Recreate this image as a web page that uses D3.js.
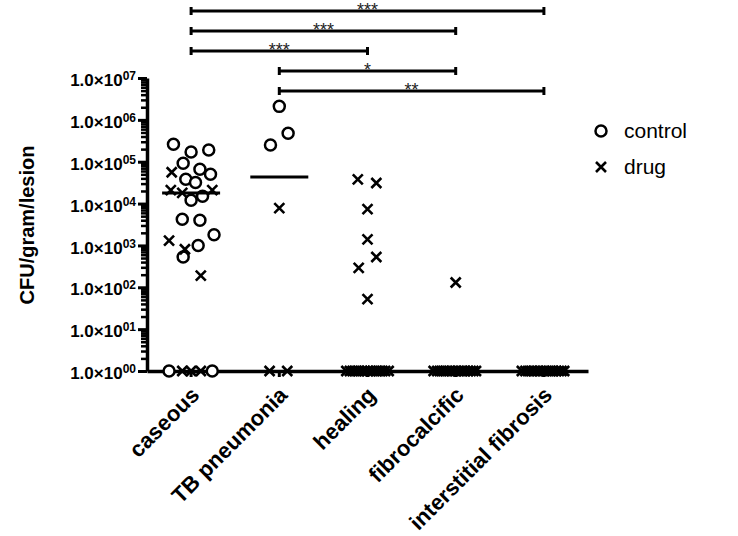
<!DOCTYPE html>
<html>
<head>
<meta charset="utf-8">
<script src="https://cdn.jsdelivr.net/npm/d3@7"></script>
<style>
  body { margin: 0; background: #fff; }
  text { font-family: Arial, 'Liberation Sans', sans-serif; }
</style>
</head>
<body>
<script>
const categories = ['caseous', 'TB pneumonia', 'healing', 'fibrocalcific', 'interstitial fibrosis']

// CFU/gram/lesion, 0 = no growth (drawn on the 1.0x10^00 line)
const controlValues = [
  [2.6e5, 1.7e5, 1.9e5, 9.2e4, 6.6e4, 5.0e4, 3.8e4, 3.2e4, 1.2e4, 1.5e4, 4.2e3, 4.0e3, 1.8e3, 1.0e3, 5.3e2, 0, 0],
  [2.1e6, 4.8e5, 2.5e5],
  [],
  [],
  [],
]
// horizontal scatter of each point, as a fraction of the category step
const controlJitter = [
  [-0.2, 0, 0.2, -0.09, 0.1, 0.22, -0.06, 0.05, 0, 0.13, -0.1, 0.1, 0.26, 0.08, -0.09, -0.25, 0.24],
  [0, 0.1, -0.1],
  [],
  [],
  [],
]
const drugValues = [
  [5.6e4, 2.1e4, 1.8e4, 2.1e4, 1.3e3, 8.1e2, 1.9e2, 0, 0, 0],
  [7.8e3, 0, 0],
  [3.8e4, 3.1e4, 7.4e3, 1.4e3, 5.3e2, 2.9e2, 52, 0, 0, 0, 0, 0, 0, 0, 0, 0, 0, 0, 0, 0, 0, 0],
  [1.3e2, 0, 0, 0, 0, 0, 0, 0, 0, 0, 0, 0, 0, 0, 0, 0],
  [0, 0, 0, 0, 0, 0, 0, 0, 0, 0, 0, 0, 0, 0, 0],
]
const drugJitter = [
  [-0.22, -0.23, -0.1, 0.24, -0.25, -0.07, 0.11, -0.1, 0, 0.11],
  [0, -0.11, 0.09],
  [-0.11, 0.1, 0, 0, 0.1, -0.1, 0, -0.24, -0.2, -0.17, -0.13, -0.1, -0.06, -0.03, 0, 0.03, 0.06, 0.1, 0.13, 0.17, 0.2, 0.24],
  [0, -0.25, -0.21, -0.18, -0.14, -0.11, -0.07, -0.04, 0, 0.03, 0.07, 0.1, 0.14, 0.17, 0.2, 0.23],
  [-0.25, -0.21, -0.18, -0.14, -0.11, -0.07, -0.04, 0, 0.03, 0.07, 0.1, 0.14, 0.17, 0.2, 0.23],
]
const medians = [1.8e4, 4.3e4, 0, 0, 0]

// significance brackets: [from category, to category, label]
const comparisons = [
  [0, 4, '***'],
  [0, 3, '***'],
  [0, 2, '***'],
  [1, 3, '*'],
  [1, 4, '**'],
]
const yTickExponents = ['00', '01', '02', '03', '04', '05', '06', '07']
const legendLabels = ['control', 'drug']

const width = 738
const height = 536
const axisX = 147
const axisY = 371

const x = d3
  .scaleBand()
  .domain(categories)
  .range([axisX, 588])

const y = d3
  .scaleLog()
  .domain([1, 1e7])
  .range([axisY, 78])

const cx = i => x(categories[i]) + x.bandwidth() / 2
const crossPath = 'M-5,-5L5,5M-5,5L5,-5'

const svg = d3
  .select('body')
  .append('svg')
  .attr('width', width)
  .attr('height', height)

// minor ticks, 2..9 in every decade
const minorTicks = []
yTickExponents.slice(0, -1).forEach((e, k) => {
  for (let m = 2; m < 10; m++) minorTicks.push(m * 10 ** k)
})

svg
  .append('g')
  .attr('transform', `translate(${axisX},0)`)
  .call(
    d3
      .axisLeft(y)
      .tickValues(minorTicks)
      .tickSize(6)
      .tickSizeOuter(0)
      .tickFormat(''),
  )
  .call(g => g.select('.domain').remove())
  .call(g => g.selectAll('.tick line').attr('stroke-width', 2.5))

const yAxis = svg
  .append('g')
  .attr('transform', `translate(${axisX},0)`)
  .call(
    d3
      .axisLeft(y)
      .tickValues(yTickExponents.map(e => 10 ** +e))
      .tickSize(9)
      .tickSizeOuter(0)
      .tickFormat(''),
  )
yAxis.select('.domain').attr('stroke-width', 3.5)
yAxis.selectAll('.tick line').attr('stroke-width', 3)
yAxis
  .selectAll('.tick text')
  .attr('x', -11)
  .attr('dy', '0.45em')
  .attr('fill', '#000')
  .style('font-size', '17px')
  .style('font-weight', 'bold')
  .style('text-anchor', 'end')
  .each(function(d, i) {
    const t = d3.select(this)
    t.append('tspan').text('1.0×10')
    t.append('tspan')
      .attr('dy', -6)
      .style('font-size', '12px')
      .text(yTickExponents[i])
  })

const xAxis = svg
  .append('g')
  .attr('transform', `translate(0,${axisY})`)
  .call(
    d3
      .axisBottom(x)
      .tickSize(6)
      .tickSizeOuter(0),
  )
xAxis.select('.domain').attr('stroke-width', 3.5)
xAxis.selectAll('.tick line').attr('stroke-width', 3)
xAxis
  .selectAll('.tick text')
  .attr('x', 0)
  .attr('y', 0)
  .attr('dy', '0.35em')
  .attr('fill', '#000')
  .attr('transform', 'translate(4,20) rotate(-45)')
  .style('text-anchor', 'end')
  .style('font-size', '22px')
  .style('font-weight', 'bold')

svg
  .append('text')
  .attr('transform', 'translate(27,225) rotate(-90)')
  .attr('dy', '0.35em')
  .style('text-anchor', 'middle')
  .style('font-size', '20px')
  .style('font-weight', 'bold')
  .text('CFU/gram/lesion')

// points
categories.forEach((c, i) => {
  svg
    .append('g')
    .selectAll('circle')
    .data(controlValues[i])
    .join('circle')
    .attr('cx', (d, j) => cx(i) + controlJitter[i][j] * x.step())
    .attr('cy', d => y(Math.max(d, 1)))
    .attr('r', 5.5)
    .attr('fill', '#fff')
    .attr('stroke', '#000')
    .attr('stroke-width', 2.5)

  svg
    .append('g')
    .selectAll('path')
    .data(drugValues[i])
    .join('path')
    .attr('transform', (d, j) => `translate(${cx(i) + drugJitter[i][j] * x.step()},${y(Math.max(d, 1))})`)
    .attr('d', crossPath)
    .attr('stroke', '#000')
    .attr('stroke-width', 2.6)

  if (medians[i] > 1) {
    svg
      .append('line')
      .attr('x1', cx(i) - 29)
      .attr('x2', cx(i) + 29)
      .attr('y1', y(medians[i]))
      .attr('y2', y(medians[i]))
      .attr('stroke', '#000')
      .attr('stroke-width', 3)
  }
})

// significance brackets
const brackets = svg
  .append('g')
  .selectAll('g')
  .data(comparisons)
  .join('g')
  .attr('transform', (d, k) => `translate(0,${11 + k * 20})`)

brackets
  .append('line')
  .attr('x1', d => cx(d[0]))
  .attr('x2', d => cx(d[1]))
  .attr('stroke', '#000')
  .attr('stroke-width', 3)

brackets
  .selectAll('.cap')
  .data(d => [cx(d[0]), cx(d[1])])
  .join('line')
  .attr('class', 'cap')
  .attr('x1', d => d)
  .attr('x2', d => d)
  .attr('y1', -4)
  .attr('y2', 4)
  .attr('stroke', '#000')
  .attr('stroke-width', 3)

brackets
  .append('text')
  .attr('x', d => (cx(d[0]) + cx(d[1])) / 2)
  .attr('y', 5)
  .style('text-anchor', 'middle')
  .style('font-size', '18px')
  .attr('fill', '#222')
  .text(d => d[2])

// legend
const legend = svg
  .append('g')
  .selectAll('g')
  .data(legendLabels)
  .join('g')
  .attr('transform', (d, k) => `translate(601,${131 + k * 36})`)

legend
  .filter((d, k) => k === 0)
  .append('circle')
  .attr('r', 5.5)
  .attr('fill', '#fff')
  .attr('stroke', '#000')
  .attr('stroke-width', 2.5)

legend
  .filter((d, k) => k === 1)
  .append('path')
  .attr('d', crossPath)
  .attr('stroke', '#000')
  .attr('stroke-width', 2.6)

legend
  .append('text')
  .attr('x', 23)
  .attr('dy', '0.35em')
  .style('font-size', '21px')
  .text(d => d)
</script>
</body>
</html>
